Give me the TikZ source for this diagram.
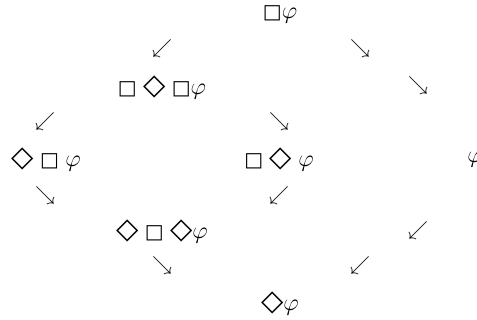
\documentclass[tikz,border=0pt]{standalone}
\usepackage{fontspec}
\setmainfont{DejaVu Sans}
\usepackage{tikz}
\tikzset{
  formula/.style={inner sep=1pt,font=\normalsize},
  pfeil/.style={inner sep=0pt,font=\normalsize},
}
\newcommand{\bx}{□}
\newcommand{\dm}{{\fontsize{14.5}{14.5}\selectfont ◇}}
\newcommand{\ph}{{\large$\varphi$}}
\begin{document}
\begin{tikzpicture}[x=0.5pt,y=-0.5pt]
  \useasboundingbox (0,0) rectangle (477,320);
  % Formeln
  \node[formula] (bphi) at (280,14) {\bx\ph};
  \node[formula] (bdbphi) at (162,88) {\bx{} \dm{} \bx\ph};
  \node[formula] (dbphi) at (46,160) {\dm{} \bx{} \ph};
  \node[formula] (bdphi) at (279,160) {\bx{} \dm{} \ph};
  \node[formula,anchor=west] (phi) at (465,160) {\ph};
  \node[formula] (dbdphi) at (162,232) {\dm{} \bx{} \dm\ph};
  \node[formula] (dphi) at (280,304) {\dm\ph};
  % Pfeile
  \node[pfeil] (p1) at (162,49) {$\swarrow$};
  \node[pfeil] (p2) at (360,49) {$\searrow$};
  \node[pfeil] (p3) at (418,86) {$\searrow$};
  \node[pfeil] (p4) at (45,122) {$\swarrow$};
  \node[pfeil] (p5) at (279,122) {$\searrow$};
  \node[pfeil] (p6) at (45,196) {$\searrow$};
  \node[pfeil] (p7) at (279,196) {$\swarrow$};
  \node[pfeil] (p8) at (418,231) {$\swarrow$};
  \node[pfeil] (p9) at (162,266) {$\searrow$};
  \node[pfeil] (p10) at (360,266) {$\swarrow$};
\end{tikzpicture}
\end{document}
